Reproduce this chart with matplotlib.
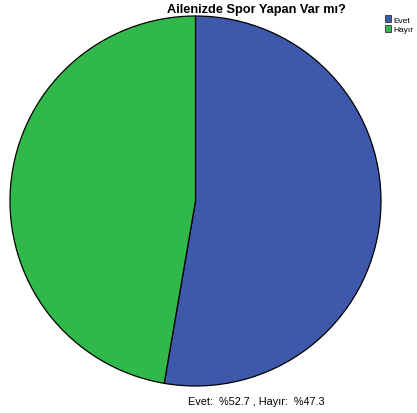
import matplotlib.pyplot as plt
from matplotlib.patches import Patch

labels = ["Evet", "Hayır"]
percents = [52.7, 47.3]
colors = ["#3e58ac", "#30b84a"]

fig = plt.figure(figsize=(4.17, 4.14), dpi=100)
plt.rcParams["font.family"] = ["Liberation Sans", "DejaVu Sans"]

# pie area
ax = fig.add_axes([10 / 417, 27 / 414, 371 / 417, 370 / 414])
ax.pie(percents, colors=colors, startangle=90, counterclock=False,
       wedgeprops=dict(edgecolor="black", linewidth=0.9))
ax.set_aspect("auto")
ax.set_xlim(-1.0, 1.0)
ax.set_ylim(-1.0, 1.0)

fig.text(256 / 417, 1 - 10 / 414, "Ailenizde Spor Yapan Var mı?",
         ha="center", va="center", fontsize=9.2, fontweight="bold")

handles = [Patch(facecolor=c, edgecolor="#333333", linewidth=0.6) for c in colors]
fig.legend(handles, labels, loc="upper left", bbox_to_anchor=(385 / 417, 1 - 16 / 414),
           frameon=False, fontsize=6, handlelength=0.75, handleheight=1.0,
           handletextpad=0.3, labelspacing=0.15, borderaxespad=0, borderpad=0)

fig.text(256 / 417, 1 - 402 / 414,
         f"{labels[0]}:  %{percents[0]} , {labels[1]}:  %{percents[1]}",
         ha="center", va="center", fontsize=7.8)

fig.savefig("out.png", dpi=100)
